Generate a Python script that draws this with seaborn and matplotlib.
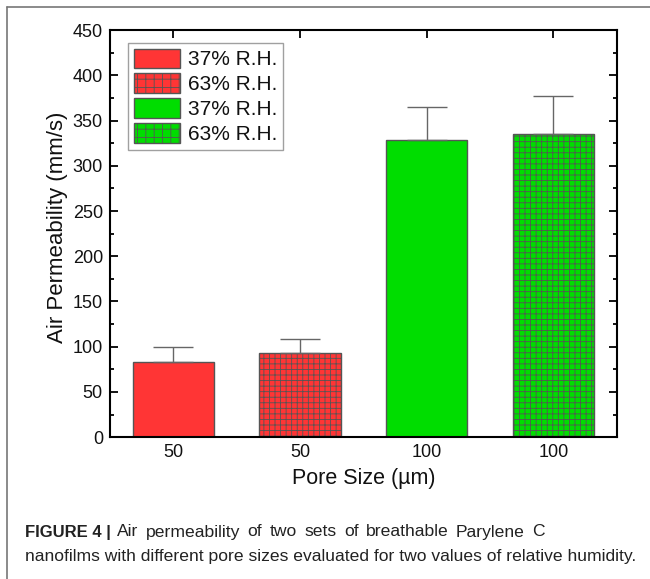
import matplotlib
matplotlib.use("Agg")
import matplotlib.pyplot as plt
import seaborn as sns
import pandas as pd
from matplotlib.patches import Patch
from matplotlib.lines import Line2D

# ---- data ----
conditions = ["50 µm, 37% R.H.", "50 µm, 63% R.H.", "100 µm, 37% R.H.", "100 µm, 63% R.H."]
pore_labels = ["50", "50", "100", "100"]
permeability = [83, 93, 329, 335]
errors = [17, 16, 36, 42]
legend_labels = ["37% R.H.", "63% R.H.", "37% R.H.", "63% R.H."]
bar_colors = ["#ff3535", "#ff3535", "#00dd00", "#00dd00"]
hatches = ["", "+++", "", "+++"]
legend_hatches = ["", "++", "", "++"]

sns.set_theme(style="ticks")
plt.rcParams["font.family"] = ["Liberation Sans", "DejaVu Sans"]
plt.rcParams["hatch.color"] = "#333333"
plt.rcParams["hatch.linewidth"] = 0.6

df = pd.DataFrame({"cond": conditions, "val": permeability})

fig = plt.figure(figsize=(6.5, 5.79), dpi=100)
ax = fig.add_axes([0.169, 0.245, 0.78, 0.703])

sns.barplot(data=df, x="cond", y="val", hue="cond", palette=bar_colors,
            legend=False, width=0.64, ax=ax, edgecolor="#555555", linewidth=1.0,
            saturation=1)
for p, h in zip(ax.patches, hatches):
    p.set_hatch(h)

ax.errorbar(range(len(conditions)), permeability, yerr=[[0]*4, errors], fmt="none",
            ecolor="#666666", elinewidth=1.0, capsize=14.4, capthick=1.0, zorder=3)

ax.set_xlim(-0.5, 3.5)
ax.set_ylim(0, 450)
ax.set_yticks(range(0, 451, 50))
ax.set_yticks(range(25, 450, 50), minor=True)
ax.set_xticks(range(4))
ax.set_xticklabels(pore_labels, fontsize=13)
ax.tick_params(axis="y", labelsize=13)
ax.tick_params(which="both", direction="in", top=True, right=True, width=1.3,
               colors="black", labelcolor="#111111")
ax.tick_params(which="major", length=6, pad=5)
ax.tick_params(which="minor", length=3)
ax.tick_params(axis="x", which="minor", top=False, bottom=False)
for s in ax.spines.values():
    s.set_linewidth(1.5)
    s.set_color("black")

ax.set_xlabel("Pore Size (µm)", fontsize=15.5, labelpad=5, color="#111111")
ax.set_ylabel("Air Permeability (mm/s)", fontsize=16, color="#111111")
ax.yaxis.set_label_coords(-0.083, 0.515)

handles = [Patch(facecolor=c, edgecolor="#555555", hatch=h, linewidth=1.0)
           for c, h in zip(bar_colors, legend_hatches)]
leg = ax.legend(handles, legend_labels, loc="upper left", bbox_to_anchor=(0.0355, 0.969),
                fontsize=15, frameon=True, fancybox=False, edgecolor="#888888",
                handlelength=2.2, handleheight=1.05, labelspacing=0.2,
                handletextpad=0.4, borderpad=0.28, borderaxespad=0.0,
                labelcolor="#111111")
leg.get_frame().set_linewidth(1.0)

# page frame lines
fig.add_artist(Line2D([7/650, 7/650], [0, 1 - 7/579], color="#777777", lw=1.2))
fig.add_artist(Line2D([7/650, 1], [1 - 7/579, 1 - 7/579], color="#777777", lw=1.2))

# caption (first line justified like the reference)
cap_color = "#222222"
y1 = 1 - 532/579
y2 = 1 - 556/579
renderer = fig.canvas.get_renderer()
bold = fig.text(25/650, y1, "FIGURE 4 |", fontsize=12, fontweight="bold",
                va="center", ha="left", color=cap_color)
bold_end = 25 + bold.get_window_extent(renderer).width
words = "Air permeability of two sets of breathable Parylene C".split()
word_texts = [fig.text(0, y1, w, fontsize=12.6, va="center", ha="left", color=cap_color)
              for w in words]
widths = [t.get_window_extent(renderer).width for t in word_texts]
x_start, x_end = bold_end + 6, 545.0
gap = (x_end - x_start - sum(widths)) / (len(words) - 1)
x = x_start
for t, w in zip(word_texts, widths):
    t.set_x(x / 650)
    x += w + gap
fig.text(25/650, y2,
         "nanofilms with different pore sizes evaluated for two values of relative humidity.",
         fontsize=12.6, va="center", ha="left", color=cap_color)

fig.savefig("out.png", dpi=100)
